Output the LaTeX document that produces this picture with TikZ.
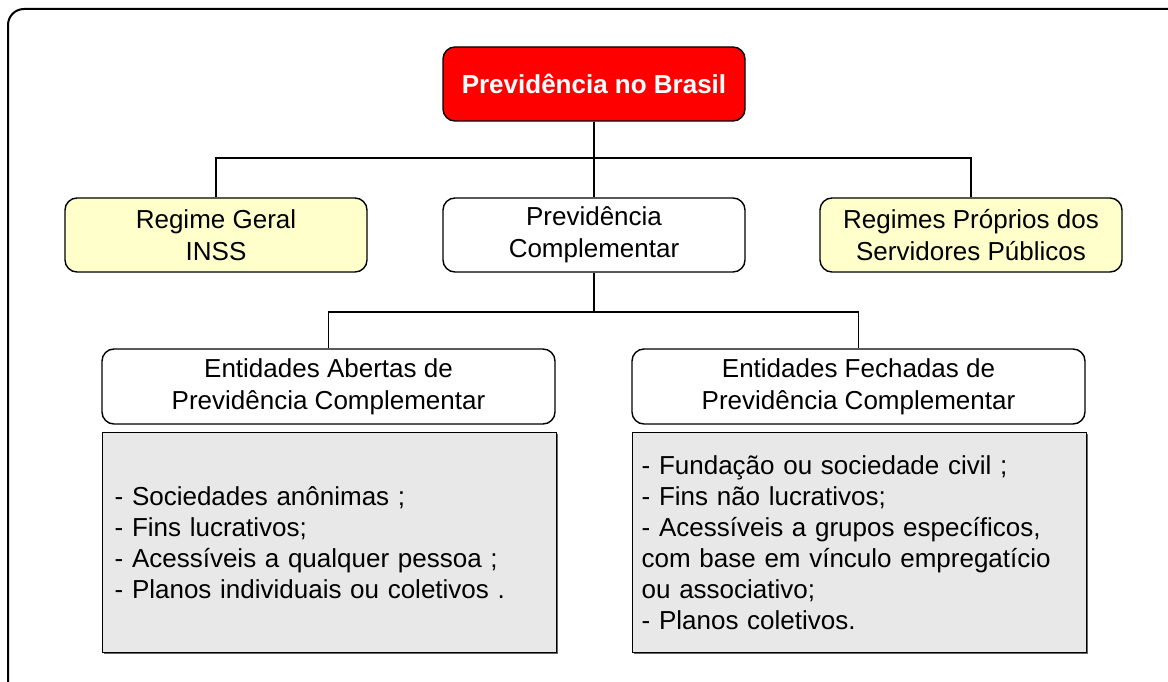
\documentclass[tikz,border=0pt]{standalone}
\usepackage{fontspec}
\setmainfont{Liberation Sans}
\usetikzlibrary{shadows}
\definecolor{redbox}{HTML}{FF0000}
\definecolor{yellowbox}{HTML}{FFFFCC}
\definecolor{greybox}{HTML}{E8E8E8}
\begin{document}
\begin{tikzpicture}[x=1pt,y=-1pt,
  box/.style={draw=black, line width=1.4pt, rounded corners=12pt, align=center, inner sep=0pt,
    font=\fontsize{26}{32}\selectfont},
  titlebox/.style={box, fill=redbox, text=white, font=\fontsize{26}{30}\selectfont\bfseries,
    minimum width=302pt, minimum height=74pt},
  midbox/.style={box, minimum width=302pt, minimum height=74pt},
  widebox/.style={box, minimum width=453pt, minimum height=75pt},
  listbox/.style={draw=black, line width=1.4pt, fill=greybox, align=left, anchor=north west,
    minimum width=454pt, minimum height=220pt, inner ysep=0pt,
    font=\fontsize{26}{31}\selectfont,
    drop shadow={shadow xshift=1.5pt, shadow yshift=-1.5pt, fill=black!60, opacity=1}},
  link/.style={draw=black, line width=1.4pt}
]
\useasboundingbox (0,0) rectangle (1168,682);
\clip (0,0) rectangle (1168,682);
\draw[line width=2pt, rounded corners=16pt] (8,9) rectangle (1220,740);

\node[titlebox] (top) at (594,84) {Previdência no Brasil};
\node[midbox, fill=yellowbox] (rg) at (216,235) {Regime Geral\\INSS};
\node[midbox, fill=white] (pc) at (594,235) {Previdência\\Complementar};
\node[midbox, fill=yellowbox] (rp) at (971,235) {Regimes Próprios dos\\Servidores Públicos};

\node[widebox, fill=white] (ea) at (328.5,386.5) {Entidades Abertas de\\Previdência Complementar};
\node[widebox, fill=white] (ef) at (858.5,386.5) {Entidades Fechadas de\\Previdência Complementar};

\node[listbox, inner xsep=12pt, text width=430pt] (la) at (102,432) {- Sociedades anônimas ;\\- Fins lucrativos;\\- Acessíveis a qualquer pessoa ;\\- Planos individuais ou coletivos .};
\node[listbox, inner xsep=9pt, text width=436pt] (lf) at (632,432) {- Fundação ou sociedade civil ;\\- Fins não lucrativos;\\- Acessíveis a grupos específicos,\\com base em vínculo empregatício\\ou associativo;\\- Planos coletivos.};

\coordinate (j1) at (594,158);
\coordinate (j2) at (594,312);
\draw[link] (top.south) -- (j1);
\draw[link] (rg.north) |- (j1) -| (rp.north);
\draw[link] (j1) -- (pc.north);
\draw[link] (pc.south) -- (j2);
\draw[link] (ea.north) |- (j2) -| (ef.north);
\end{tikzpicture}
\end{document}
